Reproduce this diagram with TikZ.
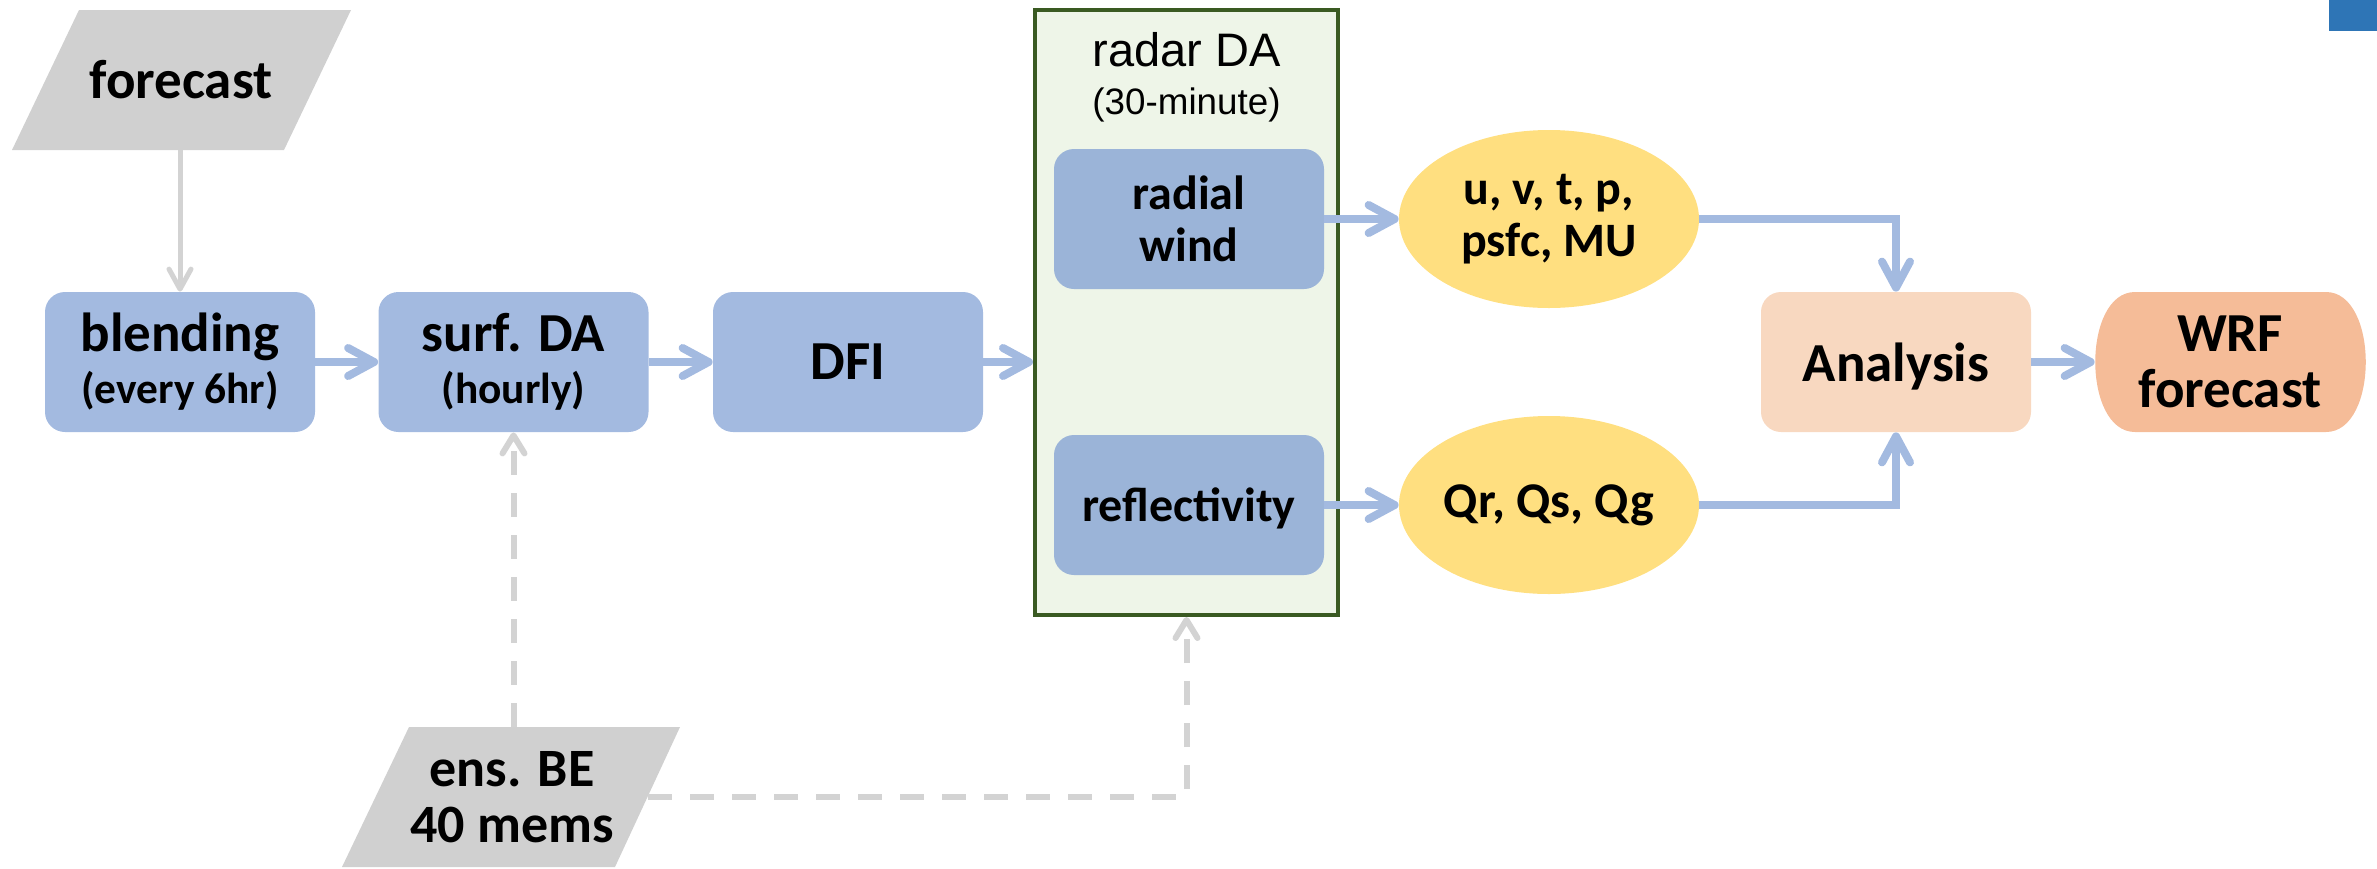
\documentclass[tikz,border=0pt]{standalone}
\usepackage{fontspec}
\setmainfont{Carlito}
\newfontfamily\arialf{Liberation Sans}
\usetikzlibrary{arrows.meta,shapes.geometric}
\definecolor{boxblue}{HTML}{A3BAE0}
\definecolor{innerblue}{HTML}{9BB4D8}
\definecolor{grayfill}{HTML}{D0D0D0}
\definecolor{arrowgray}{HTML}{D3D3D3}
\definecolor{radarfill}{HTML}{EEF5E8}
\definecolor{radarline}{HTML}{3A5A22}
\definecolor{ellfill}{HTML}{FFDF80}
\definecolor{anafill}{HTML}{F8D8C0}
\definecolor{wrffill}{HTML}{F5BC98}
\definecolor{cornerblue}{HTML}{2E75B6}
\newcommand{\bigbf}{\fontsize{27.5}{28}\selectfont\bfseries}
\newcommand{\midbf}{\fontsize{24}{26}\selectfont\bfseries}
\newcommand{\smallbf}{\fontsize{21.7}{22}\selectfont\bfseries}
\tikzset{
  bluebox/.style={rounded corners=10pt, fill=boxblue, minimum width=135pt, minimum height=70pt,
    align=center, font=\bigbf, inner sep=0pt},
  innerbox/.style={bluebox, fill=innerblue, font=\midbf},
  radarbox/.style={fill=radarfill, draw=radarline, line width=2pt, minimum width=151.5pt,
    minimum height=302.5pt, inner sep=0pt},
  ellnode/.style={ellipse, fill=ellfill, minimum width=150pt, minimum height=89pt, inner sep=0pt,
    align=center, font=\midbf},
  anabox/.style={bluebox, fill=anafill},
  plaintext/.style={align=center, inner sep=0pt},
  bluetip/.style={-{Straight Barb[length=13pt,width=14pt,round]}},
  blueline/.style={draw=boxblue, line width=4pt},
  bluearrow/.style={blueline, bluetip},
  grayarrow/.style={draw=arrowgray, line width=2.5pt, -{Straight Barb[length=10pt,width=11pt,round]}},
  dasharrow/.style={draw=arrowgray, line width=3pt, dash pattern=on 12pt off 9pt,
    -{Straight Barb[length=9pt,width=11pt,round]}},
}
\begin{document}
\begin{tikzpicture}[x=0.5pt,y=-0.5pt]
\useasboundingbox (0,0) rectangle (2377,868);
\fill[cornerblue] (2329,0) rectangle (2377,31);

% forecast parallelogram
\fill[grayfill] (79,10) -- (351,10) -- (284,150) -- (12,150) -- cycle;
\node[plaintext, font=\bigbf, minimum height=70pt] (fc) at (181,80) {forecast};

% ens BE parallelogram
\fill[grayfill] (409,727) -- (680,727) -- (615,867) -- (342,867) -- cycle;
\node[plaintext, font=\fontsize{27}{28}\selectfont\bfseries, minimum height=70pt, minimum width=136pt] (ens) at (512,797) {ens. BE\\40 mems};

% main row
\node[bluebox] (blend) at (180,362) {blending\\[-2pt]{\smallbf (every 6hr)}};
\node[bluebox] (surf) at (513.5,362) {surf. DA\\[-2pt]{\smallbf (hourly)}};
\node[bluebox, text depth=0pt] (dfi) at (848,362) {DFI};

% radar container
\node[radarbox] (radar) at (1186.5,312.5) {};
\node[plaintext, anchor=base, font=\arialf\fontsize{23.5}{24}\selectfont] (rtitle) at (1186.5,66) {radar DA};
\node[plaintext, anchor=base, font=\arialf\fontsize{18.4}{20}\selectfont] (rsub) at (1186.5,114) {(30-minute)};
\node[innerbox] (radial) at (1189,219) {radial\\wind};
\node[innerbox, text depth=0pt] (refl) at (1189,505) {reflectivity};

% ellipses
\node[ellnode] (e1) at (1549,219) {u, v, t, p,\\psfc, MU};
\node[ellnode, font=\fontsize{25}{26}\selectfont\bfseries] (e2) at (1549,505) {Qr, Qs, Qg};

% analysis and WRF
\node[anabox, text depth=0pt] (ana) at (1896,362) {Analysis};
\fill[wrffill] (2135,292) -- (2326,292) .. controls (2379,292) and (2379,432) .. (2326,432)
  -- (2135,432) .. controls (2082,432) and (2082,292) .. (2135,292);
\node[plaintext, font=\bigbf, minimum width=135pt, minimum height=70pt] (wrf) at (2230,362) {WRF\\forecast};

% connectors
\draw[grayarrow] (fc.south -| blend.north) -- (blend.north);
\draw[bluearrow] (blend.east) -- (surf.west);
\draw[bluearrow] (surf.east) -- (dfi.west);
\draw[bluearrow] (dfi.east) -- (dfi.east -| radar.west);
\draw[bluearrow] (radial.east) -- (e1.west);
\draw[bluearrow] (refl.east) -- (e2.west);
\draw[bluearrow] (e1.east) -| (ana.north);
\draw[bluearrow] (e2.east) -| (ana.south);
\draw[bluearrow] (ana.east) -- (wrf.west);
\draw[dasharrow] (ens.north -| surf.south) -- (surf.south);
\draw[dasharrow] (ens.east) -| (radar.south);
\end{tikzpicture}
\end{document}
